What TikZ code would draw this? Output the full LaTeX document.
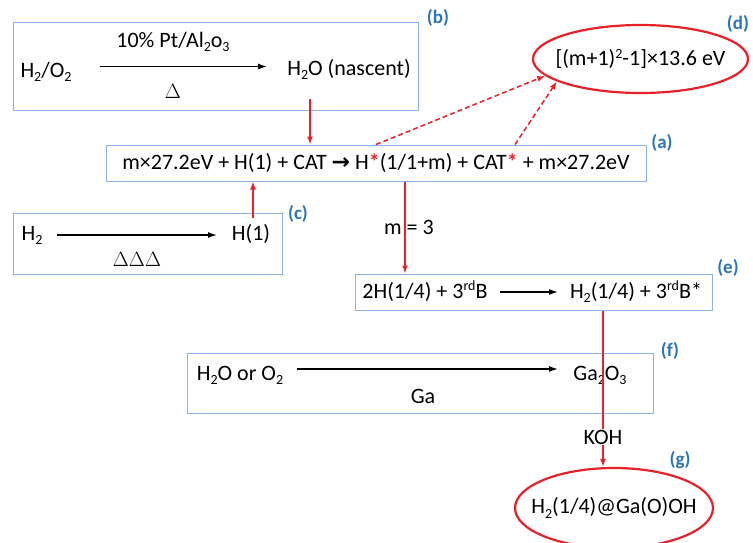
\documentclass[tikz,border=0pt]{standalone}
\usepackage{fontspec}
\setmainfont{Carlito}
\newfontfamily\arrowfont{DejaVu Sans}
\usetikzlibrary{positioning}
\usetikzlibrary{shapes.geometric}
\usetikzlibrary{arrows.meta}
\definecolor{boxblue}{HTML}{8DB3E2}
\definecolor{tagblue}{HTML}{2E75B6}
\definecolor{hotred}{HTML}{E8202A}
\newcommand\chsub[1]{\raisebox{-0.4ex}{\fontsize{14}{14}\selectfont #1}}
\newcommand\chsup[1]{\raisebox{0.75ex}{\fontsize{14}{14}\selectfont #1}}
\newcommand\redstar{{\color{hotred}\bfseries *}}

\begin{document}
\begin{tikzpicture}[x=1pt, y=-1pt, font=\fontsize{22}{26}\selectfont,
  box/.style = {draw=boxblue, line width=1pt, inner sep=0pt},
  chem/.style = {anchor=base, inner sep=0pt},
  tag/.style = {text=tagblue, font=\fontsize{19}{22}\selectfont\bfseries},
  oval/.style = {shape=ellipse, draw=hotred, line width=2.2pt, inner sep=0pt},
  rxn/.style = {-{Latex[length=9pt,width=6pt]}, line width=1.4pt},
  feed/.style = {-{Latex[length=8pt,width=6pt]}, draw=hotred, line width=1.5pt}]
  \useasboundingbox (0,0) rectangle (753,542);

  \node[box, minimum width=405pt, minimum height=88pt] (b) at (215.5,66) {};
  \node[chem] (h2o2) at (46,77) {H\chsub{2}/O\chsub{2}};
  \node[chem] (water) at (349,75) {H\chsub{2}O (nascent)};
  \node[chem] (ptcat) at (173,47) {10\% Pt/Al\chsub{2}o\chsub{3}};
  \node[chem] (heat) at (173,98) {$\Delta$};
  \coordinate (b0) at (100,66.5);
  \coordinate (b1) at (267,66.5);

  \node[box, minimum width=540pt, minimum height=36pt] (a) at (376,163)
    {m×27.2eV + H(1) + CAT {\arrowfont\bfseries →} H\redstar(1/1+m) + CAT\redstar{} + m×27.2eV};

  \node[oval, minimum width=215pt, minimum height=68pt,
    label=center:{[(m+1)\chsup{2}-1]×13.6 eV}] (d) at (640.5,59) {};

  \node[box, minimum width=269pt, minimum height=61pt] (c) at (147.5,243.5) {};
  \node[chem] (h2) at (32,240) {H\chsub{2}};
  \node[chem] (h1) at (251,240) {H(1)};
  \node[chem] (heat3) at (137,266) {$\Delta\Delta\Delta$};
  \coordinate (c0) at (57,235);
  \coordinate (c1) at (217,235);

  \node[box, minimum width=357pt, minimum height=36pt] (e) at (533.5,292) {};
  \node[chem] (hydlow) at (425,298) {2H(1/4) + 3\chsup{rd}B};
  \node[chem] (dihyd) at (636,298) {H\chsub{2}(1/4) + 3\chsup{rd}B*};
  \coordinate (e0) at (500,292);
  \coordinate (e1) at (558,292);

  \node[box, minimum width=466pt, minimum height=60pt] (f) at (420,383) {};
  \node[chem] (oxid) at (240,380) {H\chsub{2}O or O\chsub{2}};
  \node[chem] (gaox) at (600,380) {Ga\chsub{2}O\chsub{3}};
  \node[chem] (gam) at (423,403) {Ga};
  \coordinate (f0) at (297,369);
  \coordinate (f1) at (558,369);

  \node[oval, minimum width=198pt, minimum height=80pt,
    label=center:{H\chsub{2}(1/4)@Ga(O)OH}] (g) at (614,508) {};

  \node[tag] (taga) at (662,143) {(a)};
  \node[tag] (tagb) at (438,18) {(b)};
  \node[tag] (tagc) at (298,214) {(c)};
  \node[tag] (tagd) at (738,24) {(d)};
  \node[tag] (tage) at (728,268) {(e)};
  \node[tag] (tagf) at (670,351) {(f)};
  \node[tag] (tagg) at (680,460) {(g)};

  \draw[rxn] (b0) -- (b1);
  \draw[rxn] (c0) -- (c1);
  \draw[rxn] (e0) -- (e1);
  \draw[rxn] (f0) -- (f1);

  \draw[feed] ([xshift=-39pt, yshift=-20pt]water.south) -- ([xshift=-39pt]water.south |- a.north);
  \draw[feed] ([xshift=2pt, yshift=6pt]h1.north) -- ([xshift=2pt]h1.north |- a.south);
  \draw[feed, dash pattern=on 5pt off 3pt] (a.north) -- (d.190);
  \draw[feed, dash pattern=on 5pt off 3pt] ([xshift=139pt]a.north) -- (d.195);
  \draw[feed] ([xshift=29pt]a.south) -- node[midway, xshift=4pt] {m = 3} ([xshift=29pt]a.south |- e.north);
  \draw[feed] ([xshift=69.5pt]e.south) -- node[pos=0.81, fill=white, inner sep=1pt] {KOH} ([xshift=69.5pt]e.south |- g.north);
\end{tikzpicture}
\end{document}
